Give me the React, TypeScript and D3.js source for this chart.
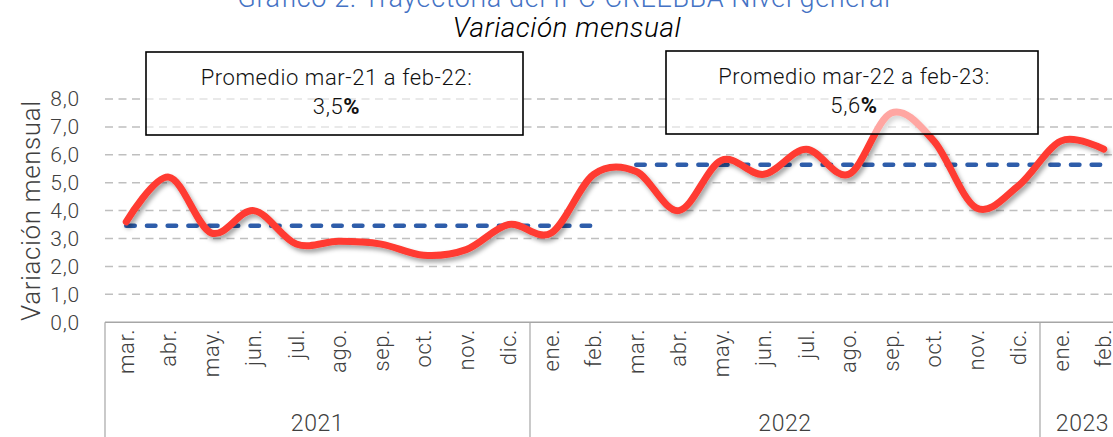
import * as d3 from 'd3';

const months = [
  'mar.', 'abr.', 'may.', 'jun.', 'jul.', 'ago.', 'sep.', 'oct.', 'nov.', 'dic.',
  'ene.', 'feb.', 'mar.', 'abr.', 'may.', 'jun.', 'jul.', 'ago.', 'sep.', 'oct.', 'nov.', 'dic.',
  'ene.', 'feb.',
];
const monthlyValues = [
  3.6, 5.2, 3.2, 4.0, 2.8, 2.9, 2.8, 2.4, 2.6, 3.5,
  3.2, 5.3, 5.4, 4.0, 5.8, 5.3, 6.2, 5.3, 7.5, 6.5, 4.1, 4.9,
  6.5, 6.2,
];
const yearLabels = ['2021', '2022', '2023'];
const yearCounts = [10, 12, 2];
const yTicks = [0, 1, 2, 3, 4, 5, 6, 7, 8];
const periodLabels = ['Promedio mar-21 a feb-22:', 'Promedio mar-22 a feb-23:'];
const periodRanges = [[0, 11], [12, 23]];

const W = 1113;
const H = 437;
const FONT = 'Roboto, "Noto Sans", sans-serif';
const TEXT = '#404040';

export default function App() {
  const bandW = 42.5;
  const left = 105;
  const x = d3
    .scaleBand<number>()
    .domain(d3.range(months.length))
    .range([left, left + months.length * bandW])
    .padding(0);
  const cx = (i: number) => (x(i) ?? 0) + x.bandwidth() / 2;

  const y = d3.scaleLinear().domain([0, 8]).range([322.2, 99]);
  const fmt = (v: number) => d3.format('.1f')(v).replace('.', ',');

  const line = d3
    .line<number>()
    .x((_, i) => cx(i))
    .y((d) => y(d))
    .curve(d3.curveCatmullRom.alpha(0));

  const averages = periodRanges.map(([a, b]) => d3.mean(monthlyValues.slice(a, b + 1)) ?? 0);

  // year group boundaries
  const groupStarts: number[] = [];
  let acc = 0;
  yearCounts.forEach((c) => {
    groupStarts.push(acc);
    acc += c;
  });

  // annotation boxes (pixel layout)
  const boxes = [
    { x: 146, y: 52, w: 377, h: 83 },
    { x: 666, y: 51, w: 372, h: 83 },
  ];

  return (
    <svg
      width={W}
      height={H}
      style={{ position: 'absolute', left: 0, top: 0, background: '#fff' }}
      fontFamily={FONT}
    >
      <defs>
        <filter id="shadow" x="-10%" y="-20%" width="120%" height="150%">
          <feDropShadow dx="2.5" dy="3.5" stdDeviation="2" floodColor="#000" floodOpacity="0.35" />
        </filter>
      </defs>

      {/* Titles */}
      <text x={564} y={7} textAnchor="middle" fontSize={27} fontWeight={300} letterSpacing={0.6} fill="#4472C4">
        Gráfico 2. Trayectoria del IPC-CREEBBA Nivel general
      </text>
      <text
        x={567}
        y={37}
        textAnchor="middle"
        fontSize={28}
        fontWeight={300}
        fontStyle="italic"
        letterSpacing={0.5}
        fill="#000"
      >
        Variación mensual
      </text>

      {/* Grid lines */}
      {yTicks.slice(1).map((t) => (
        <line
          key={t}
          x1={left}
          x2={W}
          y1={y(t)}
          y2={y(t)}
          stroke="#BFBFBF"
          strokeWidth={1.5}
          strokeDasharray="8,5.5"
        />
      ))}

      {/* Y tick labels */}
      {yTicks.map((t) => (
        <text
          key={t}
          x={80}
          y={y(t)}
          dy="0.35em"
          textAnchor="end"
          fontSize={21}
          fontWeight={300}
          letterSpacing={0.8}
          fill={TEXT}
        >
          {fmt(t)}
        </text>
      ))}
      <text
        transform={`translate(31, ${(y(0) + y(8)) / 2}) rotate(-90)`}
        dy="0.35em"
        textAnchor="middle"
        fontSize={26}
        fontWeight={300}
        letterSpacing={0.6}
        fill={TEXT}
      >
        Variación mensual
      </text>

      {/* Category axis */}
      <line x1={left} x2={W} y1={y(0)} y2={y(0)} stroke="#A6A6A6" strokeWidth={1.5} />
      {groupStarts.map((g, i) => (
        <line key={i} x1={x(g)} x2={x(g)} y1={y(0)} y2={H} stroke="#A6A6A6" strokeWidth={1.2} />
      ))}
      {months.map((m, i) => (
        <text
          key={i}
          transform={`translate(${cx(i)}, 329) rotate(-90)`}
          dy="0.35em"
          textAnchor="end"
          fontSize={22}
          fontWeight={300}
          letterSpacing={0.6}
          fill={TEXT}
        >
          {m}
        </text>
      ))}
      {yearLabels.map((yl, i) => {
        const a = x(groupStarts[i]) ?? 0;
        const b = a + yearCounts[i] * x.bandwidth();
        return (
          <text
            key={yl}
            x={(a + b) / 2}
            y={431}
            textAnchor="middle"
            fontSize={23}
            fontWeight={300}
            letterSpacing={0.6}
            fill={TEXT}
          >
            {yl}
          </text>
        );
      })}

      {/* Period averages */}
      {periodRanges.map(([a, b], i) => (
        <line
          key={i}
          x1={cx(a)}
          x2={cx(b)}
          y1={y(averages[i])}
          y2={y(averages[i])}
          stroke="#2E5DAA"
          strokeWidth={4.5}
          strokeDasharray="8.5,12.2"
          strokeLinecap="round"
        />
      ))}

      {/* Monthly series */}
      <path
        d={line(monthlyValues) ?? ''}
        fill="none"
        stroke="#FF3B30"
        strokeWidth={7}
        strokeLinecap="round"
        strokeLinejoin="round"
        filter="url(#shadow)"
      />

      {/* Annotation boxes */}
      {boxes.map((bx, i) => (
        <g key={i}>
          <rect
            x={bx.x}
            y={bx.y}
            width={bx.w}
            height={bx.h}
            fill="#fff"
            fillOpacity={0.55}
            stroke="#000"
            strokeWidth={1.6}
          />
          <text
            x={bx.x + bx.w / 2 + 2}
            y={bx.y + 33}
            textAnchor="middle"
            fontSize={22}
            fontWeight={300}
            letterSpacing={0.6}
            fill="#111"
          >
            {periodLabels[i]}
          </text>
          <text
            x={bx.x + bx.w / 2 + 2}
            y={bx.y + 62}
            textAnchor="middle"
            fontSize={22}
            fontWeight={300}
            letterSpacing={0.6}
            fill="#111"
          >
            {fmt(averages[i])}
            <tspan fontWeight={700}>%</tspan>
          </text>
        </g>
      ))}
    </svg>
  );
}
